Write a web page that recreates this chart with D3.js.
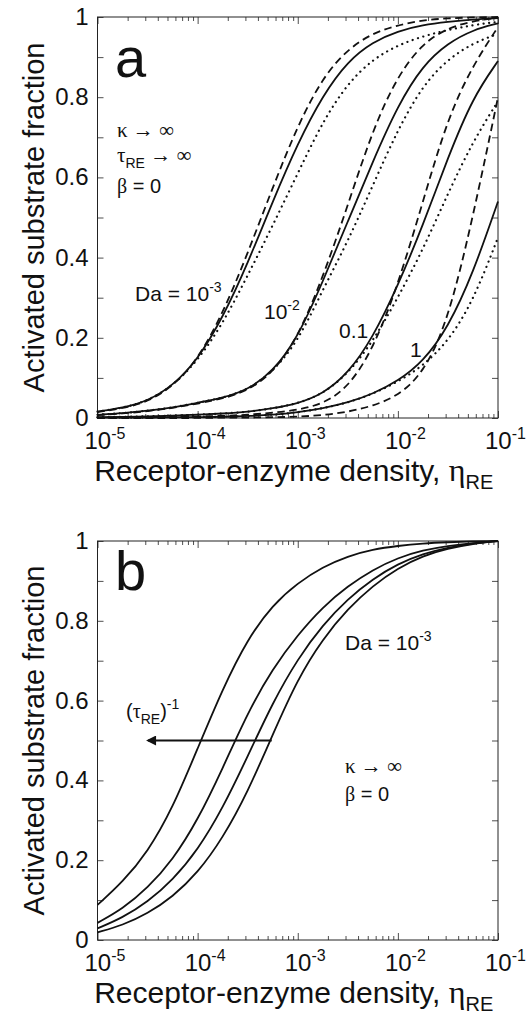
<!DOCTYPE html>
<html>
<head>
<meta charset="utf-8">
<script src="https://cdn.jsdelivr.net/npm/d3@7"></script>
<style>
  body { margin: 0; background: #fff; }
  text { font-family: "Liberation Sans", Arial, sans-serif; fill: #111; }
  .greek { font-family: "Liberation Serif", "DejaVu Serif", serif; }
</style>
</head>
<body>
<svg id="fig" width="531" height="1018"></svg>
<script>
// receptor-enzyme density grid, quarter decades from 1e-5 to 1e-1
var etaGrid = [1e-5, 1.78e-5, 3.16e-5, 5.62e-5, 1e-4, 1.78e-4, 3.16e-4, 5.62e-4,
               1e-3, 1.78e-3, 3.16e-3, 5.62e-3, 1e-2, 1.78e-2, 3.16e-2, 5.62e-2, 1e-1];

// panel a, Da = 1e-3, 1e-2, 0.1, 1 (solid / dashed / dotted)
var solidDa3 = [0.016, 0.025, 0.042, 0.08, 0.145, 0.25, 0.385, 0.54, 0.685, 0.805, 0.89, 0.938, 0.965, 0.98, 0.988, 0.994, 0.997];
var dashDa3  = [0.015, 0.024, 0.04, 0.078, 0.145, 0.26, 0.41, 0.575, 0.73, 0.85, 0.92, 0.96, 0.98, 0.992, 0.997, 0.999, 1.0];
var dotDa3   = [0.016, 0.025, 0.042, 0.08, 0.142, 0.235, 0.355, 0.48, 0.61, 0.74, 0.835, 0.895, 0.93, 0.952, 0.968, 0.98, 0.988];

var solidDa2 = [0.008, 0.012, 0.018, 0.026, 0.038, 0.05, 0.07, 0.115, 0.2, 0.34, 0.49, 0.64, 0.78, 0.88, 0.935, 0.968, 0.984];
var dashDa2  = [0.007, 0.011, 0.017, 0.025, 0.036, 0.048, 0.068, 0.112, 0.2, 0.35, 0.53, 0.72, 0.855, 0.935, 0.973, 0.99, 0.998];
var dotDa2   = [0.008, 0.012, 0.018, 0.026, 0.038, 0.05, 0.07, 0.115, 0.19, 0.32, 0.44, 0.58, 0.72, 0.83, 0.895, 0.935, 0.958];

var solidDa1 = [0.002, 0.003, 0.004, 0.006, 0.008, 0.011, 0.015, 0.024, 0.036, 0.06, 0.11, 0.2, 0.33, 0.48, 0.65, 0.8, 0.89];
var dashDa1  = [0.001, 0.001, 0.002, 0.003, 0.004, 0.005, 0.008, 0.013, 0.02, 0.035, 0.075, 0.17, 0.33, 0.54, 0.75, 0.88, 0.975];
var dotDa1   = [0.002, 0.003, 0.004, 0.006, 0.008, 0.011, 0.015, 0.024, 0.036, 0.06, 0.11, 0.19, 0.3, 0.42, 0.56, 0.69, 0.79];

var solidDa0 = [0.001, 0.001, 0.001, 0.002, 0.002, 0.003, 0.005, 0.008, 0.014, 0.024, 0.038, 0.06, 0.092, 0.14, 0.225, 0.36, 0.54];
var dashDa0  = [0, 0, 0, 0, 0, 0.001, 0.001, 0.002, 0.003, 0.007, 0.015, 0.03, 0.055, 0.11, 0.24, 0.5, 0.8];
var dotDa0   = [0.001, 0.001, 0.001, 0.002, 0.002, 0.003, 0.005, 0.008, 0.014, 0.024, 0.038, 0.06, 0.09, 0.13, 0.19, 0.29, 0.45];

// panel b, Da = 1e-3, decreasing tau_RE from left to right
var tauCurve1 = [0.088, 0.145, 0.22, 0.33, 0.48, 0.63, 0.755, 0.84, 0.895, 0.935, 0.962, 0.979, 0.988, 0.994, 0.997, 0.999, 1.0];
var tauCurve2 = [0.043, 0.078, 0.13, 0.2, 0.3, 0.43, 0.57, 0.68, 0.765, 0.835, 0.887, 0.928, 0.958, 0.977, 0.988, 0.995, 1.0];
var tauCurve3 = [0.029, 0.056, 0.095, 0.15, 0.225, 0.33, 0.46, 0.595, 0.705, 0.79, 0.855, 0.905, 0.943, 0.968, 0.984, 0.994, 1.0];
var tauCurve4 = [0.019, 0.037, 0.066, 0.108, 0.168, 0.255, 0.37, 0.515, 0.655, 0.755, 0.83, 0.888, 0.932, 0.963, 0.981, 0.993, 1.0];

// arrow in panel b (density from, to) at fraction 0.5
var arrowEta = [5.5e-4, 3.2e-5];
var arrowLevel = 0.5;

// axes
var xMajor = [1e-5, 1e-4, 1e-3, 1e-2, 1e-1];
var xTickExp = ["-5", "-4", "-3", "-2", "-1"];
var yMajor = [0, 0.2, 0.4, 0.6, 0.8, 1];
var yTickLabels = ["0", "0.2", "0.4", "0.6", "0.8", "1"];
var yMinor = [0.1, 0.3, 0.5, 0.7, 0.9];

var svg = d3.select("#fig");
var left = 97.5, right = 498;

var x = d3.scaleLog().domain([1e-5, 1e-1]).range([left, right]);

// minor ticks 2..9 in every decade
var xMinor = [];
xMajor.slice(0, 4).forEach(function (d) {
    for (var k = 2; k <= 9; k++) xMinor.push(d * k);
});

function pairs(vals) {
    return etaGrid.map(function (e, i) { return [e, vals[i]]; });
}

function drawPanel(top, bottom, lines) {
    var y = d3.scaleLinear().domain([0, 1]).range([bottom, top]);
    var g = svg.append("g");

    // ticks pointing inward on all four sides
    function tickAxis(axis, size, vals, transform) {
        g.append("g")
            .attr("transform", transform)
            .call(axis.tickValues(vals).tickSize(size).tickSizeOuter(0).tickFormat(""))
            .call(function (s) { s.select(".domain").remove(); })
            .selectAll("line").attr("stroke", "#222").attr("stroke-width", 0.8);
    }
    tickAxis(d3.axisBottom(x), -7, xMajor, "translate(0," + bottom + ")");
    tickAxis(d3.axisBottom(x), -4, xMinor, "translate(0," + bottom + ")");
    tickAxis(d3.axisTop(x), -7, xMajor, "translate(0," + top + ")");
    tickAxis(d3.axisTop(x), -4, xMinor, "translate(0," + top + ")");
    tickAxis(d3.axisLeft(y), -6, yMajor.concat(yMinor), "translate(" + left + ",0)");
    tickAxis(d3.axisRight(y), -6, yMajor.concat(yMinor), "translate(" + right + ",0)");

    g.append("rect")
        .attr("x", left).attr("y", top)
        .attr("width", right - left).attr("height", bottom - top)
        .attr("fill", "none").attr("stroke", "#222").attr("stroke-width", 1);

    // tick labels
    yMajor.forEach(function (v, i) {
        g.append("text")
            .attr("x", left - 9).attr("y", y(v) + 8)
            .attr("text-anchor", "end")
            .attr("font-size", 24)
            .text(yTickLabels[i]);
    });
    xMajor.forEach(function (v, i) {
        var t = g.append("text")
            .attr("x", x(v) - 13).attr("y", bottom + 31)
            .attr("font-size", 24);
        t.append("tspan").text("10");
        t.append("tspan").attr("dy", -10).attr("font-size", 16).text(xTickExp[i]);
    });

    // axis titles
    g.append("text")
        .attr("transform", "translate(44," + ((top + bottom) / 2) + ") rotate(-90)")
        .attr("text-anchor", "middle")
        .attr("font-size", 29)
        .text("Activated substrate fraction");

    var xl = g.append("text")
        .attr("x", (left + right) / 2 - 4).attr("y", bottom + 63)
        .attr("text-anchor", "middle")
        .attr("font-size", 30);
    xl.append("tspan").text("Receptor-enzyme density, ");
    xl.append("tspan").attr("class", "greek").attr("font-size", 32).text("\u03b7");
    xl.append("tspan").attr("dy", 8).attr("font-size", 20).text("RE");

    var line = d3.line()
        .x(function (d) { return x(d[0]); })
        .y(function (d) { return y(d[1]); })
        .curve(d3.curveBasis);

    lines.forEach(function (l) {
        g.append("path")
            .attr("d", line(pairs(l.vals)))
            .attr("fill", "none")
            .attr("stroke", "#111")
            .attr("stroke-width", l.dash === "dot" ? 2.2 : 1.8)
            .attr("stroke-linecap", l.dash === "dot" ? "round" : "butt")
            .attr("stroke-dasharray", l.dash === "dash" ? "7.5,4.5" : (l.dash === "dot" ? "0.1,5.5" : null));
    });

    return { g: g, y: y };
}

// ---------- panel a ----------
var pa = drawPanel(17, 418, [
    { vals: solidDa3 }, { vals: dashDa3, dash: "dash" }, { vals: dotDa3, dash: "dot" },
    { vals: solidDa2 }, { vals: dashDa2, dash: "dash" }, { vals: dotDa2, dash: "dot" },
    { vals: solidDa1 }, { vals: dashDa1, dash: "dash" }, { vals: dotDa1, dash: "dot" },
    { vals: solidDa0 }, { vals: dashDa0, dash: "dash" }, { vals: dotDa0, dash: "dot" }
]);

pa.g.append("text").attr("x", 115).attr("y", 77).attr("font-size", 56).text("a");

var k1 = pa.g.append("text").attr("x", 117).attr("y", 137).attr("font-size", 21);
k1.append("tspan").attr("class", "greek").text("\u03ba \u2192 \u221e");

var t1 = pa.g.append("text").attr("x", 117).attr("y", 162).attr("font-size", 21);
t1.append("tspan").attr("class", "greek").text("\u03c4");
t1.append("tspan").attr("dy", 6).attr("font-size", 14).text("RE");
t1.append("tspan").attr("dy", -6).attr("class", "greek").text(" \u2192 \u221e");

var b1 = pa.g.append("text").attr("x", 117).attr("y", 193).attr("font-size", 20);
b1.append("tspan").attr("class", "greek").text("\u03b2");
b1.append("tspan").text(" = 0");

function daLabel(g, px, py, base, exp) {
    var t = g.append("text").attr("x", px).attr("y", py).attr("font-size", 21);
    t.append("tspan").text(base);
    if (exp) t.append("tspan").attr("dy", -9).attr("font-size", 14).text(exp);
}
daLabel(pa.g, 135, 301, "Da = 10", "-3");
daLabel(pa.g, 264, 319, "10", "-2");
daLabel(pa.g, 339, 338, "0.1", null);
daLabel(pa.g, 410, 357, "1", null);

// ---------- panel b ----------
var pb = drawPanel(541, 940, [
    { vals: tauCurve1 }, { vals: tauCurve2 }, { vals: tauCurve3 }, { vals: tauCurve4 }
]);

pb.g.append("text").attr("x", 115).attr("y", 590).attr("font-size", 56).text("b");

daLabel(pb.g, 345, 650, "Da = 10", "-3");

var k2 = pb.g.append("text").attr("x", 345).attr("y", 773).attr("font-size", 21);
k2.append("tspan").attr("class", "greek").text("\u03ba \u2192 \u221e");
var b2 = pb.g.append("text").attr("x", 345).attr("y", 801).attr("font-size", 20);
b2.append("tspan").attr("class", "greek").text("\u03b2");
b2.append("tspan").text(" = 0");

var tl = pb.g.append("text").attr("x", 126).attr("y", 718).attr("font-size", 20);
tl.append("tspan").text("(");
tl.append("tspan").attr("class", "greek").text("\u03c4");
tl.append("tspan").attr("dy", 6).attr("font-size", 14).text("RE");
tl.append("tspan").attr("dy", -6).text(")");
tl.append("tspan").attr("dy", -9).attr("font-size", 14).text("-1");

// arrow toward lower density
svg.append("defs").append("marker")
    .attr("id", "head").attr("viewBox", "0 0 10 10")
    .attr("refX", 8).attr("refY", 5)
    .attr("markerWidth", 7).attr("markerHeight", 5)
    .attr("markerUnits", "strokeWidth")
    .attr("orient", "auto")
    .append("path").attr("d", "M0,0 L10,5 L0,10 z").attr("fill", "#111");

pb.g.append("line")
    .attr("x1", x(arrowEta[0])).attr("y1", pb.y(arrowLevel))
    .attr("x2", x(arrowEta[1])).attr("y2", pb.y(arrowLevel))
    .attr("stroke", "#111").attr("stroke-width", 2)
    .attr("marker-end", "url(#head)");
</script>
</body>
</html>
